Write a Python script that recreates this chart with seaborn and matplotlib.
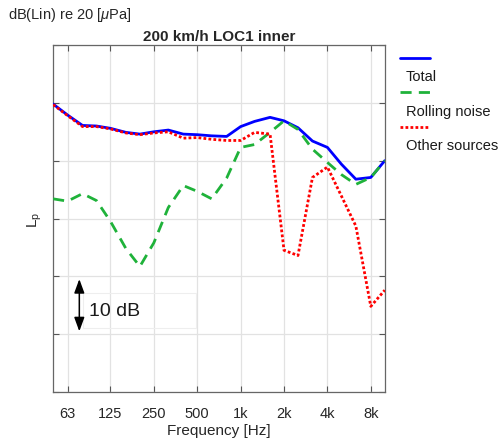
import matplotlib
matplotlib.use("Agg")
import matplotlib.pyplot as plt
from matplotlib.lines import Line2D
from matplotlib.patches import Rectangle
import seaborn as sns
import pandas as pd

# third-octave band centre frequencies [Hz]
freqs = [50, 63, 80, 100, 125, 160, 200, 250, 315, 400, 500, 630,
         800, 1000, 1250, 1600, 2000, 2500, 3150, 4000, 5000, 6300, 8000, 10000]
total = [79.8, 77.9, 76.1, 76.0, 75.6, 74.9, 74.6, 75.0, 75.3, 74.6, 74.5, 74.3,
         74.2, 75.9, 76.8, 77.5, 76.9, 75.7, 73.4, 72.3, 69.4, 66.8, 67.1, 70.0]
rolling = [63.4, 63.0, 64.3, 63.1, 59.5, 54.8, 51.7, 55.8, 61.9, 65.7, 64.7, 63.4,
           67.0, 72.3, 72.8, 74.9, 76.9, 75.4, 72.0, 69.7, 67.6, 65.9, 67.1, 70.0]
other = [79.7, 77.8, 75.9, 75.9, 75.5, 74.8, 74.5, 74.8, 75.0, 73.9, 74.0, 73.7,
         73.5, 73.5, 74.9, 74.6, 54.5, 53.6, 67.1, 68.9, 63.9, 58.7, 44.8, 47.6]

tick_freqs = [63, 125, 250, 500, 1000, 2000, 4000, 8000]
tick_labels = ["63", "125", "250", "500", "1k", "2k", "4k", "8k"]
series_names = ["Total", "Rolling noise", "Other sources"]

df = pd.DataFrame({"freq": freqs, "Total": total,
                   "Rolling noise": rolling, "Other sources": other})

sns.set_theme(style="ticks")
plt.rcParams["font.family"] = ["Liberation Sans", "DejaVu Sans"]
plt.rcParams["mathtext.fontset"] = "custom"
plt.rcParams["mathtext.rm"] = "Liberation Sans"
plt.rcParams["mathtext.it"] = "Liberation Sans:italic"

fig = plt.figure(figsize=(5.01, 4.39), dpi=100)
ax = fig.add_axes([0.106, 0.105, 0.662, 0.790])

styles = {
    "Total": dict(color="#0000ff", linestyle="-"),
    "Rolling noise": dict(color="#1fb23a", linestyle=(0, (4, 2.6))),
    "Other sources": dict(color="#ff0000", linestyle=(0, (1, 0.8))),
}
order = {"Total": 3, "Rolling noise": 4, "Other sources": 5}
for name in ["Rolling noise", "Other sources", "Total"]:
    sns.lineplot(data=df, x="freq", y=name, ax=ax, linewidth=2,
                 zorder=order[name], **styles[name])

ax.set_xscale("log")
ax.set_xlim(50, 10000)
ax.set_ylim(30, 90)
ax.set_xticks(tick_freqs)
ax.set_xticklabels(tick_labels)
ax.xaxis.set_minor_locator(matplotlib.ticker.NullLocator())
ax.set_yticks(range(30, 91, 10))
ax.set_yticklabels([])
ax.grid(True, color="#e2e2e2", linewidth=0.9)
ax.tick_params(direction="in", top=True, right=True, length=4, width=0.8,
               color="#555555", labelsize=10.5, labelcolor="#262626")
ax.tick_params(axis="x", pad=10)
for sp in ax.spines.values():
    sp.set_color("#666666")
    sp.set_linewidth(0.9)

ax.set_xlabel("Frequency [Hz]", fontsize=11, color="#262626", labelpad=2)
ax.set_ylabel(r"L$_\mathregular{p}$", fontsize=11, color="#262626")
ax.yaxis.set_label_coords(-0.026, 0.5)
ax.set_title("200 km/h LOC1 inner", fontsize=11, fontweight="bold", pad=4)
fig.text(0.016, 0.966, r"dB(Lin) re 20 [$\mu$Pa]", fontsize=10.5,
         va="center", ha="left", color="#262626")

# 10 dB scale arrow
ax.add_patch(Rectangle((0.09, 0.183), 0.34, 0.102, transform=ax.transAxes,
                       fill=False, edgecolor="#eeeeee", linewidth=0.8))
ax.annotate("", xy=(76, 40), xytext=(76, 50),
            arrowprops=dict(arrowstyle="<|-|>,head_length=0.6,head_width=0.22",
                            color="black", lw=1.1, mutation_scale=14))
ax.text(0.109, 0.235, "10 dB", transform=ax.transAxes, fontsize=14,
        va="center", ha="left", color="#1a1a1a")

# legend with text under each sample
leg_y = [[59, 76.7], [92.7, 111.7], [127.7, 146]]
for name, (ly, ty) in zip(series_names, leg_y):
    st = styles[name]
    fig.add_artist(Line2D([400 / 501, 430 / 501], [1 - ly / 439, 1 - ly / 439],
                          transform=fig.transFigure, color=st["color"],
                          linestyle=st["linestyle"], linewidth=2))
    fig.text(406 / 501, 1 - ty / 439, name, fontsize=10.5, va="center",
             ha="left", color="#1a1a1a")

fig.savefig("out.png", dpi=100)
